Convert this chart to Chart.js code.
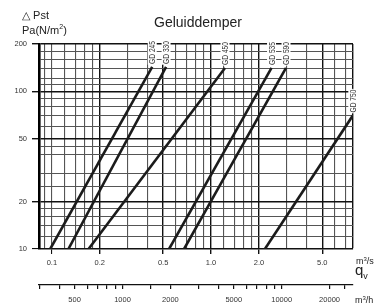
<!DOCTYPE html>
<html>
<head>
<meta charset="utf-8">
<script src="https://cdn.jsdelivr.net/npm/chart.js@4.4.0/dist/chart.umd.min.js"></script>
<style>
  html, body { margin: 0; padding: 0; background: #fff; }
  #wrap { position: relative; width: 377px; height: 305px; font-family: "Liberation Sans", Arial, sans-serif; color: #222; }
  #wrap canvas { position: absolute; left: 0; top: 0; }
  .lbl { position: absolute; white-space: nowrap; line-height: 1; }
  .sup { position: relative; top: -5px; font-size: 7px; }
  .sub { position: relative; top: 4px; font-size: 9px; }
</style>
</head>
<body>
<div id="wrap">
  <canvas id="chart" width="377" height="305" style="width:377px;height:305px"></canvas>
  <div class="lbl" style="left:154px;top:15px;font-size:14px;">Geluiddemper</div>
  <div class="lbl" style="left:22px;top:10px;font-size:11px;">△ Pst</div>
  <div class="lbl" style="left:22px;top:25px;font-size:11px;">Pa(N/m<span class="sup">2</span>)</div>
  <div class="lbl" style="left:356px;top:257px;font-size:9px;">m<span class="sup" style="font-size:6px;top:-3px">3</span>/s</div>
  <div class="lbl" style="left:355px;top:262px;font-size:15px;">q<span class="sub">v</span></div>
  <div class="lbl" style="left:355px;top:296px;font-size:9px;">m<span class="sup" style="font-size:6px;top:-3px">3</span>/h</div>
</div>
<script>
// silencer types and read-off points (q in m3/s, pressure drop in Pa)
const types = ["GD 245", "GD 330", "GD 450", "GD 535", "GD 590", "GD 750"];
const qStart = [0.0976, 0.127, 0.17, 0.545, 0.677, 2.18];
const pStart = [10, 10, 10, 10, 10, 10];
const qEnd = [0.427, 0.522, 1.224, 2.40, 2.96, 7.78];
const pEnd = [143, 143, 141, 141, 141, 70.3];

// axes
const Q_MIN = 0.083, Q_MAX = 7.8;
const P_MIN = 10, P_MAX = 200;
const qGrid = [0.09, 0.1, 0.12, 0.14, 0.16, 0.18, 0.2, 0.3, 0.4, 0.5, 0.6, 0.7, 0.8, 0.9, 1, 1.2, 1.4, 1.6, 1.8, 2, 3, 4, 5, 6, 7, 7.8];
const qTicks = [0.1, 0.2, 0.5, 1, 2, 5];
const qTickLabels = ["0.1", "0.2", "0.5", "1.0", "2.0", "5.0"];
const pGrid = [10, 12, 14, 16, 18, 20, 25, 30, 40, 45, 50, 60, 70, 80, 90, 100, 110, 120, 140, 160, 180, 200];
const pTicks = [10, 20, 50, 100, 200];
const flowGrid = [300, 400, 500, 600, 700, 800, 900, 1000, 1500, 2000, 3000, 4000, 5000, 6000, 7000, 8000, 9000, 10000, 20000, 25000];
const flowTicks = [500, 1000, 2000, 5000, 10000, 20000];

const at = (list, v) => list.findIndex(t => Math.abs(t - v) / t < 1e-6);
const darkQ = [0.2, 0.5, 1, 2, 5, 7.8];
const darkP = [20, 50, 100, 200];

const datasets = types.map((name, i) => ({
  label: name,
  data: [{ x: qStart[i], y: pStart[i] }, { x: qEnd[i], y: pEnd[i] }],
  borderColor: "#1b1b1b",
  borderWidth: 2.6,
  pointRadius: 0,
  fill: false,
  tension: 0,
}));

// rotated type names above the end of each line
const typeLabels = {
  id: "typeLabels",
  afterDatasetsDraw(chart) {
    const ctx = chart.ctx;
    ctx.save();
    ctx.font = '9px "Liberation Sans", Arial, sans-serif';
    chart.data.datasets.forEach((ds, i) => {
      const meta = chart.getDatasetMeta(i);
      const pt = meta.data[meta.data.length - 1];
      const w = ctx.measureText(ds.label).width;
      ctx.save();
      ctx.translate(pt.x, pt.y - 3);
      ctx.rotate(-Math.PI / 2);
      ctx.scale(0.74, 1);
      ctx.fillStyle = "#fff";
      ctx.fillRect(-1, -4.5, w + 2, 9);
      ctx.fillStyle = "#333";
      ctx.textBaseline = "middle";
      ctx.textAlign = "left";
      ctx.fillText(ds.label, 0, 0.5);
      ctx.restore();
    });
    ctx.restore();
  },
};

const tickFont = { family: "'Liberation Sans', Arial, sans-serif", size: 7.5 };

new Chart(document.getElementById("chart"), {
  type: "line",
  data: { datasets: datasets },
  options: {
    responsive: false,
    animation: false,
    layout: { padding: { top: 44, right: 24, left: 0, bottom: 0 } },
    plugins: { legend: { display: false }, tooltip: { enabled: false } },
    scales: {
      x: {
        type: "logarithmic",
        position: "bottom",
        weight: 0,
        min: Q_MIN,
        max: Q_MAX,
        afterBuildTicks: (s) => { s.ticks = qGrid.map(v => ({ value: v })); },
        afterFit: (s) => { s.height = 36; },
        grid: {
          color: (c) => at(darkQ, c.tick.value) >= 0 ? "#111" : "#555",
          lineWidth: (c) => at(darkQ, c.tick.value) >= 0 ? 1.4 : 1.1,
          tickLength: 5,
          tickColor: (c) => at(qTicks, c.tick.value) >= 0 ? "#111" : "rgba(0,0,0,0)",
        },
        border: { display: true, color: "#111", width: 1.4 },
        ticks: {
          autoSkip: false,
          maxRotation: 0,
          padding: 4,
          font: tickFont,
          color: "#333",
          callback: (v) => { const k = at(qTicks, v); return k >= 0 ? qTickLabels[k] : ""; },
        },
      },
      x2: {
        type: "logarithmic",
        position: "bottom",
        weight: 1,
        min: Q_MIN * 3600,
        max: Q_MAX * 3600,
        afterBuildTicks: (s) => { s.ticks = flowGrid.map(v => ({ value: v })); },
        afterFit: (s) => { s.height = 20; },
        grid: { drawOnChartArea: false, tickLength: 4, tickColor: "#111", lineWidth: 1.2 },
        border: { display: true, color: "#111", width: 1.3 },
        ticks: {
          autoSkip: false,
          maxRotation: 0,
          padding: 6,
          font: tickFont,
          color: "#333",
          callback: (v) => at(flowTicks, v) >= 0 ? String(v) : "",
        },
      },
      y: {
        type: "logarithmic",
        position: "left",
        min: P_MIN,
        max: P_MAX,
        afterBuildTicks: (s) => { s.ticks = pGrid.map(v => ({ value: v })); },
        afterFit: (s) => { s.width = 39; },
        grid: {
          color: (c) => at(darkP, c.tick.value) >= 0 ? "#111" : "#555",
          lineWidth: (c) => at(darkP, c.tick.value) >= 0 ? 1.4 : 1.1,
          tickLength: 7,
          tickColor: (c) => at(pTicks, c.tick.value) >= 0 ? "#111" : "rgba(0,0,0,0)",
        },
        border: { display: true, color: "#000", width: 2.6 },
        ticks: {
          autoSkip: false,
          padding: 5,
          font: tickFont,
          color: "#333",
          callback: (v) => at(pTicks, v) >= 0 ? String(v) : "",
        },
      },
    },
  },
  plugins: [typeLabels],
});
</script>
</body>
</html>
